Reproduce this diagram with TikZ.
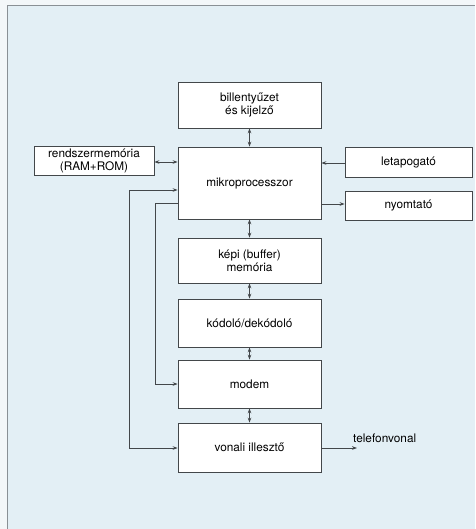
\documentclass[tikz,border=0pt]{standalone}
\usepackage{fontspec}
\setmainfont{TeX Gyre Heros}
\usetikzlibrary{arrows.meta,positioning}
\definecolor{pagebg}{HTML}{F3F7F9}
\definecolor{panelbg}{HTML}{E3EFF5}
\definecolor{framecol}{HTML}{8A9095}
\definecolor{linecol}{HTML}{43474A}
\tikzset{
  blk/.style={draw=linecol, line width=0.75pt, fill=white, align=center,
    font=\fontsize{11.8}{13}\selectfont, inner sep=0pt},
  conn/.style={draw=linecol, line width=0.7pt,
    arrows={-Stealth[length=5pt,width=3.6pt]}},
  bconn/.style={draw=linecol, line width=0.7pt,
    arrows={Stealth[length=5pt,width=3.6pt]-Stealth[length=5pt,width=3.6pt]}},
  lbl/.style={font=\fontsize{11.8}{13}\selectfont, inner sep=0pt}
}
% box by corner coordinates (pixel units, y downward)
\newcommand{\blkbox}[6]{%
  \node[blk, minimum width=#4-#2, minimum height=#5-#3] (#1)
    at ({(#2+#4)/2},{(#3+#5)/2}) {#6};}
\begin{document}
\begin{tikzpicture}[x=1pt,y=-1pt]
  \useasboundingbox (0,0) rectangle (475,529);
  \fill[pagebg] (0,0) rectangle (475,529);
  \fill[panelbg] (7,6) rectangle (475,529);
  \draw[framecol, line width=1pt] (7,529) -- (7,6) -- (475,6);

  \blkbox{kb}{178}{82}{321}{128}{billentyűzet\\és kijelző}
  \blkbox{mp}{178}{147}{321}{219}{mikroprocesszor}
  \blkbox{rm}{34}{146}{154}{175}{rendszermemória\\(RAM+ROM)}
  \blkbox{lt}{345}{147}{472}{177}{letapogató}
  \blkbox{ny}{345}{191}{472}{220}{nyomtató}
  \blkbox{kp}{178}{238}{321}{283}{képi (buffer)\\memória}
  \blkbox{kd}{178}{299}{321}{347}{kódoló/dekódoló}
  \blkbox{md}{178}{360}{321}{408}{modem}
  \blkbox{vi}{178}{423}{321}{472}{vonali illesztő}

  % vertical bus
  \draw[bconn] (kb.south) -- (mp.north);
  \draw[bconn] (mp.south) -- (kp.north);
  \draw[bconn] (kp.south) -- (kd.north);
  \draw[bconn] (kd.south) -- (md.north);
  \draw[bconn] (md.south) -- (vi.north);

  % side connections
  \draw[bconn] (rm.east |- 0,162) -- (mp.west |- 0,162);
  \draw[conn] (lt.west |- 0,163) -- (mp.east |- 0,163);
  \draw[conn] (mp.east |- 0,204) -- (ny.west |- 0,204);

  % loops on the left
  \draw[bconn] (mp.west |- 0,190) -- (129,190) -- (129,448) -- (vi.west |- 0,448);
  \draw[conn] (mp.west |- 0,203) -- (155,203) -- (155,384) -- (md.west |- 0,384);

  % line output
  \coordinate (tel) at (357,448);
  \draw[conn] (vi.east |- 0,448) -- (tel);
  \node[lbl, anchor=south west] (telL) at (353,443) {telefonvonal};
\end{tikzpicture}
\end{document}
